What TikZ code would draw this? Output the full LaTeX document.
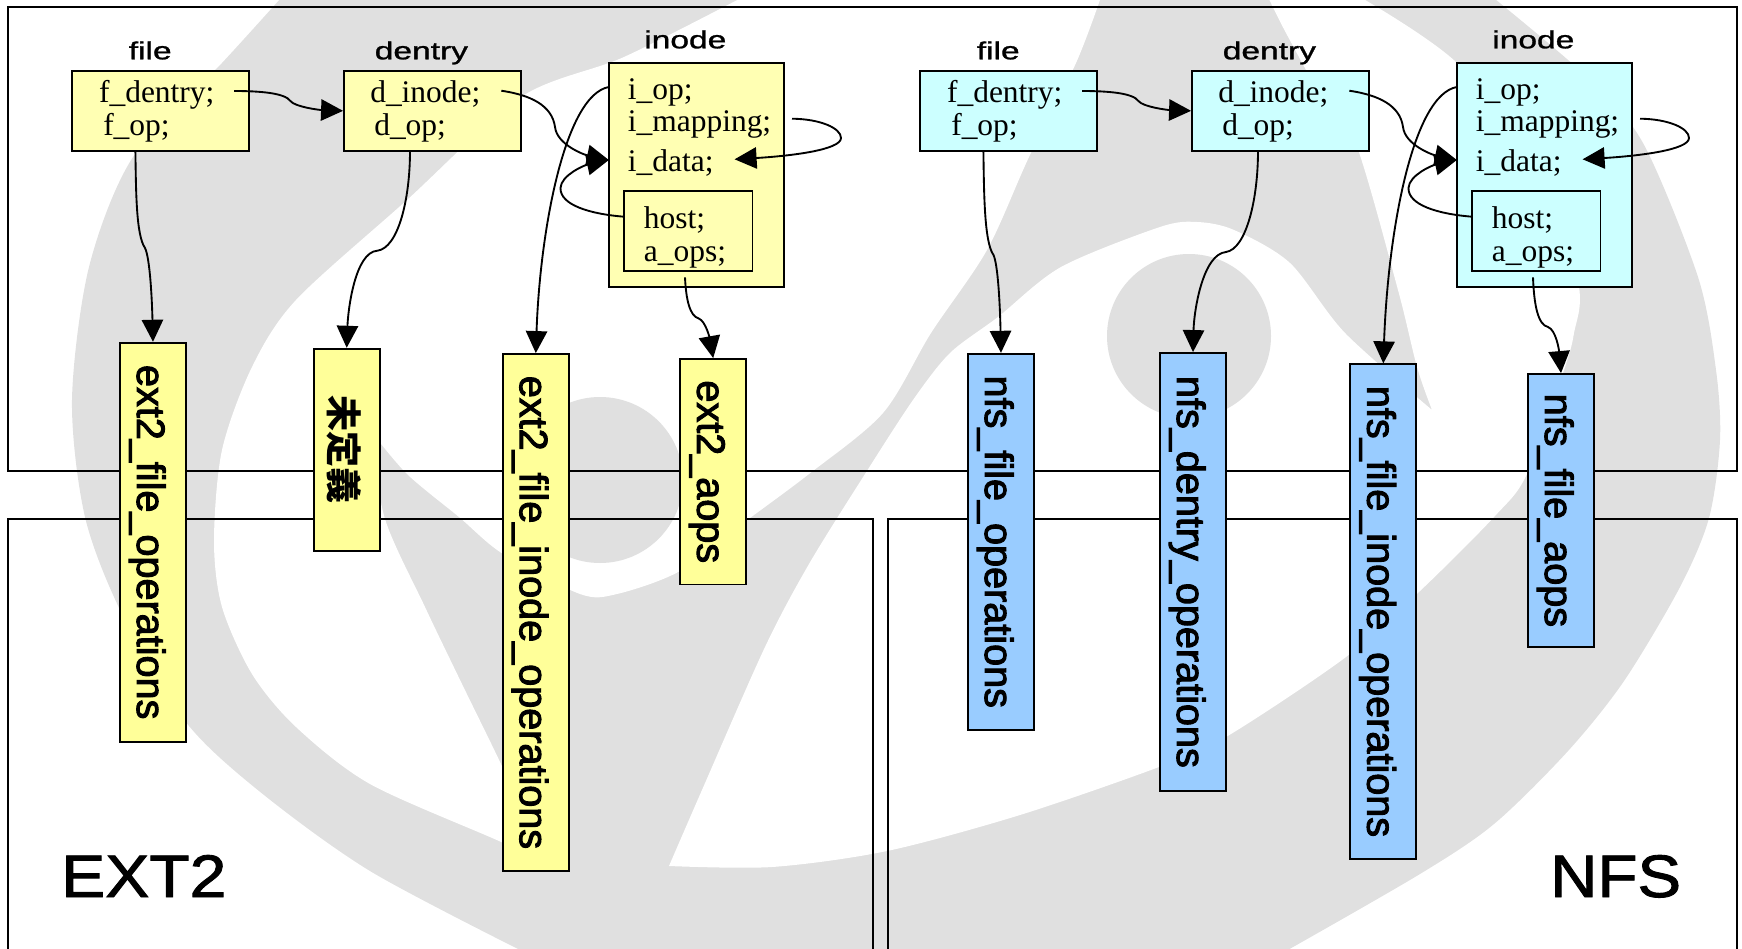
\documentclass[tikz,border=0pt]{standalone}
\usepackage{fontspec}
\setmainfont{Liberation Serif}
\newfontfamily\codefont{Liberation Serif}
\newfontfamily\labelfont[FakeBold=1]{Liberation Sans}
\newfontfamily\bigfont[FakeBold=1.5]{Liberation Sans}
\newfontfamily\opsfont[FakeBold=2.5]{Liberation Sans}
\newfontfamily\cjkfont{Noto Sans CJK JP}
\usetikzlibrary{arrows.meta}
\definecolor{logogray}{HTML}{E0E0E0}
\definecolor{ylight}{HTML}{FFFFB3}
\definecolor{yopen}{HTML}{FFFF99}
\definecolor{cylight}{HTML}{CCFFFF}
\definecolor{bluebox}{HTML}{99CCFF}
\tikzset{
  rule/.style={draw=black,line width=1.4pt},
  frameline/.style={draw=black,line width=1.5pt},
  topbox/.style={rule,inner sep=0pt},
  code/.style={anchor=base west,inner sep=0pt,font=\codefont\fontsize{23.6pt}{26pt}\selectfont},
  head/.style={anchor=base west,inner sep=0pt,font=\labelfont\fontsize{18.5pt}{20pt}\selectfont},
  big/.style={anchor=base west,inner sep=0pt,font=\bigfont\fontsize{45pt}{48pt}\selectfont},
  ops/.style={rule,rotate=-90,inner sep=0pt,minimum height=49.5pt,text height=24pt,text depth=0pt,
              font=\opsfont\fontsize{29.7pt}{32pt}\selectfont},
  conn/.style={draw=black,line width=1.4pt,-{Triangle[length=16.5pt,width=16pt]}},
}
% one file/dentry/inode group; #1 prefix, #2 fill
\newcommand{\topgroup}[2]{%
  \node[topbox,fill=#2,minimum width=132.45pt,minimum height=60.2pt] (#1file) at (160.3,110.85) {};
  \node[topbox,fill=#2,minimum width=132.45pt,minimum height=60.2pt] (#1dentry) at (432.3,110.85) {};
  \node[topbox,fill=#2,minimum width=131.4pt,minimum height=168pt] (#1inode) at (696.4,175) {};
  \node[topbox,fill=#2,minimum width=96.4pt,minimum height=60.2pt] (#1mapbox) at (688.25,231.15) {};
  \node[head] (#1filehead) at (128.5,59.3) {\scalebox{1.36}[1]{file}};
  \node[head] (#1dentryhead) at (374.5,59.3) {\scalebox{1.36}[1]{dentry}};
  \node[head] (#1inodehead) at (644,48.3) {\scalebox{1.36}[1]{inode}};
  \node[code] (#1t1) at (98.8,103) {f\_dentry;};
  \node[code] (#1t2) at (103,135.2) {f\_op;};
  \node[code] (#1t3) at (370,103) {d\_inode;};
  \node[code] (#1t4) at (374,135.2) {d\_op;};
  \node[code] (#1t5) at (627.6,99.7) {i\_op;};
  \node[code] (#1t6) at (627.6,131.7) {i\_mapping;};
  \node[code] (#1t7) at (627.6,171) {i\_data;};
  \node[code] (#1t8) at (643.7,228.7) {host;};
  \node[code] (#1t9) at (643.7,261) {a\_ops;};
  \coordinate (#1fd) at (234.2,91);
  \coordinate (#1fo) at (135.4,151);
  \coordinate (#1di) at (501.3,90.7);
  \coordinate (#1dop) at (410,151);
  \coordinate (#1iop) at (608.8,87);
  \coordinate (#1im) at (792,118.7);
  \coordinate (#1idin) at (608.8,160);
  \coordinate (#1idr) at (734.6,159.3);
  \coordinate (#1ho) at (624,216.7);
  \coordinate (#1ao) at (685,277.3);
  \draw[conn] (#1fd) .. controls (260,91) and (285,93) .. (290.4,101) .. controls (295,107) and (320,110) .. (#1dentry.west);
  \draw[conn] (#1di) .. controls (530,95) and (552,105) .. (555,127) .. controls (557,145) and (585,155) .. (#1idin);
  \draw[conn] (#1ho) .. controls (590,214) and (560,205) .. (560.5,188) .. controls (561,175) and (585,165) .. (#1idin);
  \draw[conn] (#1im) .. controls (820,119) and (841,128) .. (841,138) .. controls (841,150) and (790,156) .. (#1idr);
}
\begin{document}
\begin{tikzpicture}[x=0.75pt,y=-0.75pt]
\useasboundingbox (0,0) rectangle (1742,949);
\begin{scope}
\clip (0,0) rectangle (1742,949);
\fill[logogray] plot[smooth] coordinates {(281,-2)(222,63)(133,157)(89,267)(72,400)(85,517)(122,614)(185,721)(259,791)(370,871)(522,951)}
  -- plot[smooth] coordinates {(1286,951)(1420,874)(1494,824)(1568,751)(1624,681)(1680,587)(1709,518)(1720,440)(1716,370)(1698,277)(1643,143)(1587,77)(1490,-5)} -- cycle;
\fill[white] plot[smooth] coordinates {(743,-3)(624,57)(521,97)(407,200)(296,300)(252,367)(222,450)(214,541)(222,607)(252,674)(296,727)(370,784)(499,841)(548,865)}
  -- plot[smooth] coordinates {(548,865)(501,764)(462,684)(425,607)(385,519)(370,430)}
  -- plot[smooth] coordinates {(370,430)(407,474)(459,517)(503,554)(580,594)(617,594)(680,571)(746,521)(809,474)(883,413)(931,333)(987,250)(1029,157)(1076,63)(1101,-3)} -- cycle;
\fill[white] plot[smooth] coordinates {(669,866)(702,790)(765,647)(809,564)(865,474)(913,400)(950,353)(998,317)(1061,267)(1160,227)(1197,222)(1234,230)(1290,263)(1345,333)(1432,410)}
  -- plot[smooth] coordinates {(1432,410)(1417,367)(1398,290)(1357,147)(1327,107)(1286,33)(1268,-3)}
  -- plot[smooth] coordinates {(1360,-3)(1457,63)(1550,180)(1579,287)(1574,333)(1565,367)(1527,474)(1494,517)(1420,591)(1346,657)(1226,737)(1159,767)(1020,815)(887,851)(772,867)(669,866)} -- cycle;
\fill[logogray] (600,480) circle[radius=83];
\fill[logogray] (1189,336) circle[radius=82];
\end{scope}

\draw[frameline] (8.3,6.7) rectangle (1737,470.7);
\draw[frameline] (8.3,949) -- (8.3,518.5) -- (872.6,518.5) -- (872.6,949);
\draw[frameline] (888.2,949) -- (888.2,518.5) -- (1737,518.5) -- (1737,949);

\node[ops,fill=yopen,minimum width=299.25pt] (efileops) at (153,542.2) {ext2\_file\_operations};
\node[ops,fill=yopen,minimum width=151.7pt,font=\cjkfont\bfseries\fontsize{27pt}{30pt}\selectfont] (eundefops) at (346.7,449.85) {未定義};
\node[ops,fill=yopen,minimum width=387.75pt] (einodeops) at (535.8,612.5) {ext2\_file\_inode\_operations};
\node[ops,fill=yopen,minimum width=169.1pt] (eaopsops) at (713.2,471.75) {ext2\_aops};
\node[ops,fill=bluebox,minimum width=282pt] (nfileops) at (1001,541.75) {nfs\_file\_operations};
\node[ops,fill=bluebox,minimum width=328.35pt] (ndentryops) at (1193,571.9) {nfs\_dentry\_operations};
\node[ops,fill=bluebox,minimum width=370.8pt] (ninodeops) at (1383.3,611.5) {nfs\_file\_inode\_operations};
\node[ops,fill=bluebox,minimum width=204.6pt] (naopsops) at (1561,510.4) {nfs\_file\_aops};

\topgroup{e}{ylight}
\draw[conn] (efo) .. controls (136,190) and (136,235) .. (145,248) .. controls (150,258) and (152,300) .. (efileops.west);
\draw[conn] (edop) .. controls (410,200) and (398,248) .. (377.4,250.7) .. controls (355,252) and (348,310) .. (eundefops.west);
\draw[conn] (eiop) .. controls (565,95) and (540,230) .. (einodeops.west);
\draw[conn] (eao) .. controls (686,300) and (690,316) .. (698.4,318.3) .. controls (706,321) and (710,340) .. (eaopsops.west);

\begin{scope}[xshift=636pt]
\topgroup{n}{cylight}
\draw[conn] (nfo) .. controls (136,190) and (136,242) .. (145.5,255) .. controls (150,265) and (152,305) .. (nfileops.west);
\draw[conn] (ndop) .. controls (410,200) and (398,249) .. (378,252) .. controls (355,254) and (346,310) .. (ndentryops.west);
\draw[conn] (niop) .. controls (565,95) and (540,230) .. (ninodeops.west);
\draw[conn] (nao) .. controls (686,305) and (690,325) .. (700,327) .. controls (708,330) and (711,350) .. (naopsops.west);
\end{scope}

\node[big] (extlabel) at (61,897) {\scalebox{1.1}[1]{EXT2}};
\node[big] (nfslabel) at (1550,897) {\scalebox{1.09}[1]{NFS}};
\end{tikzpicture}
\end{document}
